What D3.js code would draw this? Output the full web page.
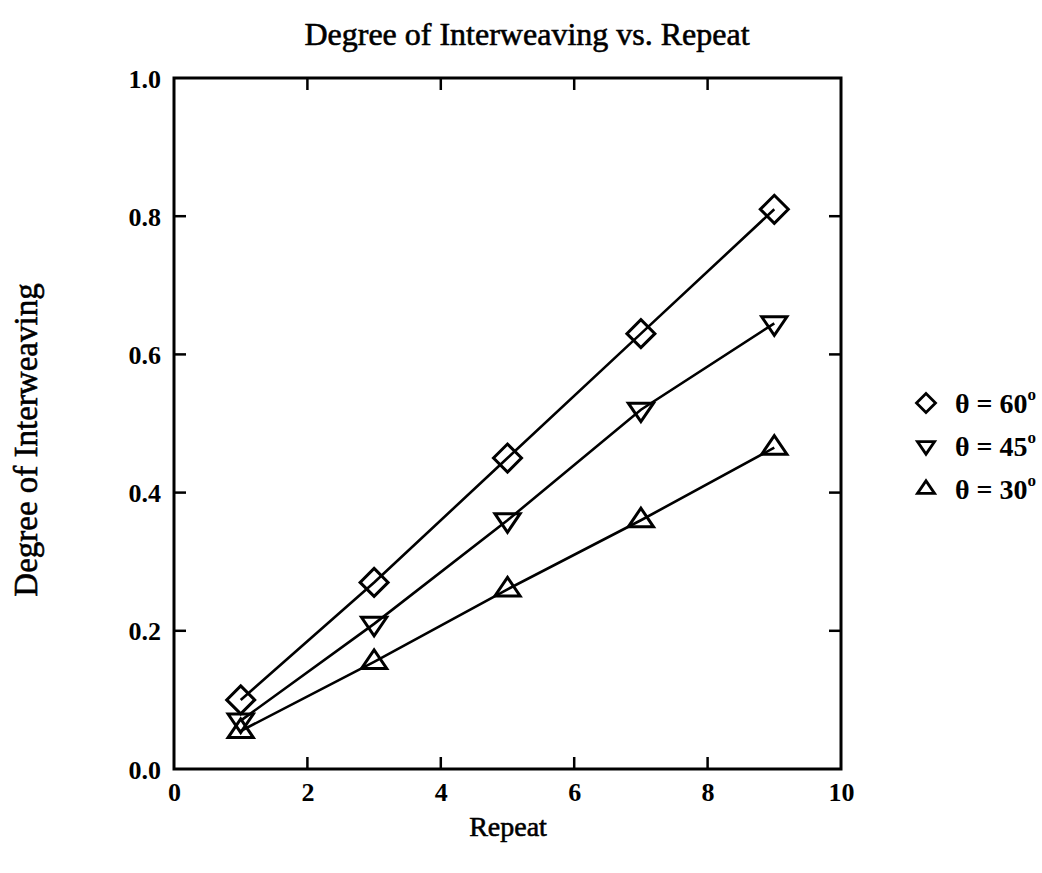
<!DOCTYPE html>
<html>
<head>
<meta charset="utf-8">
<script src="https://cdn.jsdelivr.net/npm/d3@7"></script>
<style>
  html, body { margin: 0; padding: 0; background: #fff; }
  svg text { font-family: "Liberation Serif", "DejaVu Serif", serif; fill: #000; }
</style>
</head>
<body>
<svg id="chart" width="1042" height="873"></svg>
<script>
// Repeat count on the x axis
const repeats = [1, 3, 5, 7, 9];
// Degree of interweaving for each winding angle
const theta60 = [0.10, 0.27, 0.45, 0.63, 0.81];
const theta45 = [0.07, 0.21, 0.36, 0.52, 0.645];
const theta30 = [0.055, 0.155, 0.26, 0.36, 0.465];
const seriesNames = ["θ = 60", "θ = 45", "θ = 30"];
const seriesShapes = ["diamond", "down", "up"];
const xTicks = [0, 2, 4, 6, 8, 10];
const yTicks = [0.0, 0.2, 0.4, 0.6, 0.8, 1.0];

const series = [theta60, theta45, theta30].map((vals, i) => ({
  name: seriesNames[i],
  shape: seriesShapes[i],
  points: vals.map((v, j) => ({ x: repeats[j], y: v }))
}));

const svg = d3.select("#chart");
const plot = { left: 174, right: 841, top: 78, bottom: 769 };

const x = d3.scaleLinear().domain([0, 10]).range([plot.left, plot.right]);
const y = d3.scaleLinear().domain([0, 1]).range([plot.bottom, plot.top]);

// Marker path generator: diamond, downward and upward triangles
function markerPath(shape, s) {
  if (shape === "diamond") {
    return `M0,${-s}L${s},0L0,${s}L${-s},0Z`;
  }
  const w = s * 0.9, h = s * 0.78;
  if (shape === "down") {
    return `M${-w},${-h * 0.6}L${w},${-h * 0.6}L0,${h * 1.1}Z`;
  }
  return `M${-w},${h * 0.6}L${w},${h * 0.6}L0,${-h * 1.1}Z`;
}

// Title
svg.append("text")
  .attr("x", 527).attr("y", 45)
  .attr("text-anchor", "middle")
  .attr("font-size", 32)
  .attr("stroke", "#000").attr("stroke-width", 0.6)
  .text("Degree of Interweaving vs. Repeat");

// Axes: ticks point inward on all four sides
const tickLen = 12;
const axisBottom = d3.axisBottom(x).tickValues(xTicks).tickSize(0).tickFormat(d3.format("d"));
const axisLeft = d3.axisLeft(y).tickValues(yTicks).tickSize(0).tickFormat(d3.format(".1f"));

const gx = svg.append("g").attr("transform", `translate(0,${plot.bottom})`).call(axisBottom);
gx.select(".domain").remove();
gx.selectAll("text").attr("dy", 0).attr("y", 32)
  .attr("font-size", 26).attr("font-weight", "bold")
  .style("font-family", "'Liberation Serif', serif");

const gy = svg.append("g").attr("transform", `translate(${plot.left},0)`).call(axisLeft);
gy.select(".domain").remove();
gy.selectAll("text").attr("x", -13).attr("dy", "0.35em")
  .attr("font-size", 26).attr("font-weight", "bold")
  .style("font-family", "'Liberation Serif', serif");

const ticks = svg.append("g").attr("stroke", "#000").attr("stroke-width", 2.5);
xTicks.slice(1, -1).forEach(t => {
  ticks.append("line").attr("x1", x(t)).attr("x2", x(t)).attr("y1", plot.bottom).attr("y2", plot.bottom - tickLen);
  ticks.append("line").attr("x1", x(t)).attr("x2", x(t)).attr("y1", plot.top).attr("y2", plot.top + tickLen);
});
yTicks.slice(1, -1).forEach(t => {
  ticks.append("line").attr("x1", plot.left).attr("x2", plot.left + tickLen).attr("y1", y(t)).attr("y2", y(t));
  ticks.append("line").attr("x1", plot.right).attr("x2", plot.right - tickLen).attr("y1", y(t)).attr("y2", y(t));
});

// Frame
svg.append("rect")
  .attr("x", plot.left).attr("y", plot.top)
  .attr("width", plot.right - plot.left).attr("height", plot.bottom - plot.top)
  .attr("fill", "none").attr("stroke", "#000").attr("stroke-width", 3);

// Axis titles
svg.append("text")
  .attr("x", 508).attr("y", 836)
  .attr("text-anchor", "middle")
  .attr("font-size", 28)
  .attr("stroke", "#000").attr("stroke-width", 0.6)
  .text("Repeat");

svg.append("text")
  .attr("transform", "translate(37,440) rotate(-90)")
  .attr("text-anchor", "middle")
  .attr("font-size", 33)
  .attr("stroke", "#000").attr("stroke-width", 0.6)
  .text("Degree of Interweaving");

// Lines
const line = d3.line().x(d => x(d.x)).y(d => y(d.y));
const lines = svg.append("g");
series.forEach(s => {
  lines.append("path")
    .attr("d", line(s.points))
    .attr("fill", "none")
    .attr("stroke", "#000")
    .attr("stroke-width", 2.6);
});

// Markers (hollow)
const markers = svg.append("g");
series.forEach(s => {
  markers.selectAll(null)
    .data(s.points)
    .join("path")
    .attr("transform", d => `translate(${x(d.x)},${y(d.y)})`)
    .attr("d", markerPath(s.shape, 14))
    .attr("fill", "none")
    .attr("stroke", "#000")
    .attr("stroke-width", 3)
    .attr("stroke-linejoin", "miter");
});

// Legend
const legend = svg.append("g");
const legendY = [403, 446, 489];
series.forEach((s, i) => {
  const row = legend.append("g").attr("transform", `translate(0,${legendY[i]})`);
  row.append("path")
    .attr("transform", "translate(926,0)")
    .attr("d", markerPath(s.shape, 9.5))
    .attr("fill", "none").attr("stroke", "#000").attr("stroke-width", 2.8);
  const t = row.append("text")
    .attr("x", 955).attr("y", 10)
    .attr("font-size", 28).attr("font-weight", "bold");
  t.append("tspan").text(s.name);
  t.append("tspan").attr("dy", -13).attr("font-size", 17).text("o");
});
</script>
</body>
</html>
